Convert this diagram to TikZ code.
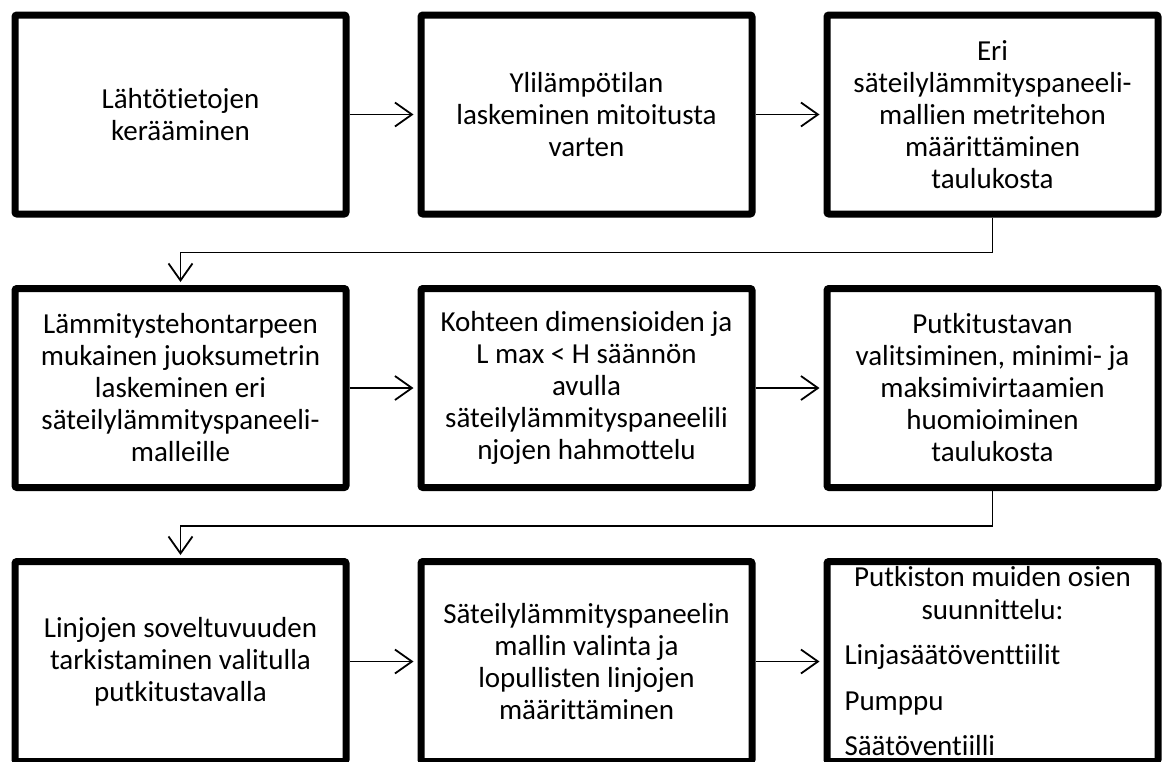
\documentclass[tikz,border=0pt]{standalone}
\usepackage{fontspec}
\setmainfont{Carlito}[Ligatures=NoCommon]
\usetikzlibrary{arrows.meta,shadows}
\tikzset{
  stepbox/.style={draw, line width=7pt, rounded corners=2pt, fill=white,
    minimum width=331pt, minimum height=199pt, align=center,
    font=\fontsize{29}{32}\selectfont, inner sep=0pt,
    drop shadow={shadow xshift=2pt, shadow yshift=-3pt, opacity=0.25, fill=black}},
  conn/.style={line width=1.8pt, -{Straight Barb[length=17pt,width=24pt,line width=1.8pt]}}
}
\begin{document}
\begin{tikzpicture}[x=1pt,y=-1pt]
\useasboundingbox (0,0) rectangle (1164,761);
% row 1
\node[stepbox] (a1) at (180.5,114.5) {Lähtötietojen\\kerääminen};
\node[stepbox] (a2) at (586.5,114.5) {Ylilämpötilan\\laskeminen mitoitusta\\varten};
\node[stepbox] (a3) at (992.5,114.5) {Eri\\säteilylämmityspaneeli-\\mallien metritehon\\määrittäminen\\taulukosta};
% row 2
\node[stepbox] (b1) at (180.5,388) {Lämmitystehontarpeen\\mukainen juoksumetrin\\laskeminen eri\\säteilylämmityspaneeli-\\malleille};
\node[stepbox] (b2) at (586.5,388) {Kohteen dimensioiden ja\\L max < H säännön\\avulla\\säteilylämmityspaneelili\\njojen hahmottelu};
\node[stepbox] (b3) at (992.5,388) {Putkitustavan\\valitsiminen, minimi- ja\\maksimivirtaamien\\huomioiminen\\taulukosta};
% row 3
\node[stepbox, minimum height=200pt] (c1) at (180.5,661.5) {Linjojen soveltuvuuden\\tarkistaminen valitulla\\putkitustavalla};
\node[stepbox, minimum height=200pt] (c2) at (586.5,661.5) {Säteilylämmityspaneelin\\mallin valinta ja\\lopullisten linjojen\\määrittäminen};
\node[stepbox, minimum height=200pt] (c3) at (992.5,661.5) {\parbox[t][190pt][t]{318pt}{%
  \baselineskip=33pt
  {\centering Putkiston muiden osien\\suunnittelu:\par}%
  \vspace{12pt}\leftskip=11pt
  Linjasäätöventtiilit\par\vspace{13pt}
  Pumppu\par\vspace{12pt}
  Säätöventiilli\par\vfill}};
% connectors
\draw[conn, shorten >=4pt] (a1.east) -- (a2.west);
\draw[conn, shorten >=4pt] (a2.east) -- (a3.west);
\draw[conn, shorten >=4pt] (b1.east) -- (b2.west);
\draw[conn, shorten >=4pt] (b2.east) -- (b3.west);
\draw[conn, shorten >=4pt] (c1.east) -- (c2.west);
\draw[conn, shorten >=4pt] (c2.east) -- (c3.west);
\draw[conn, shorten >=3pt] (a3.south) -- ++(0,35) -| (b1.north);
\draw[conn, shorten >=3pt] (b3.south) -- ++(0,35) -| (c1.north);
\end{tikzpicture}
\end{document}
